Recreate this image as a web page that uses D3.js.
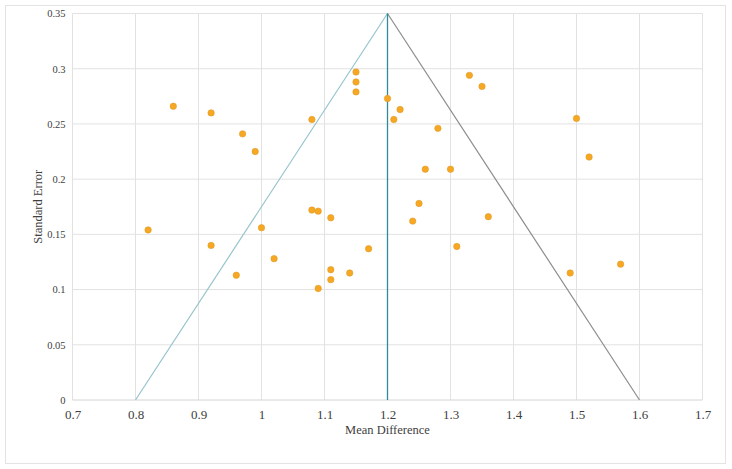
<!DOCTYPE html>
<html>
<head>
<meta charset="utf-8">
<script src="https://cdn.jsdelivr.net/npm/d3@7"></script>
<style>
  body { margin: 0; background: #fff; }
  svg text { font-family: "Liberation Serif", "Times New Roman", serif !important; fill: #404040; }
</style>
</head>
<body>
<div id="chart"></div>
<script>
// Study mean differences and their standard errors
var meanDiff = [0.82, 0.86, 0.92, 0.97, 0.99, 0.92, 0.96, 1.00, 1.08, 1.15, 1.15, 1.15,
  1.20, 1.22, 1.21, 1.28, 1.26, 1.30, 1.33, 1.35, 1.08, 1.09, 1.11, 1.25, 1.24, 1.36,
  1.02, 1.11, 1.11, 1.09, 1.14, 1.17, 1.31, 1.50, 1.52, 1.49, 1.57];
var stdErr = [0.154, 0.266, 0.260, 0.241, 0.225, 0.140, 0.113, 0.156, 0.254, 0.297, 0.288, 0.279,
  0.273, 0.263, 0.254, 0.246, 0.209, 0.209, 0.294, 0.284, 0.172, 0.171, 0.165, 0.178, 0.162, 0.166,
  0.128, 0.118, 0.109, 0.101, 0.115, 0.137, 0.139, 0.255, 0.220, 0.115, 0.123];

// Funnel: pooled estimate and limits
var pooled = 1.2;
var funnelLeft = [[0.8, 0], [1.2, 0.35]];
var funnelRight = [[1.2, 0.35], [1.6, 0]];

var xTicks = [0.7, 0.8, 0.9, 1, 1.1, 1.2, 1.3, 1.4, 1.5, 1.6, 1.7];
var yTicks = [0, 0.05, 0.1, 0.15, 0.2, 0.25, 0.3, 0.35];

var width = 732, height = 469;
var serif = "Liberation Serif";

var svg = d3.select("#chart")
  .append("svg")
  .attr("width", width)
  .attr("height", height);

// Outer chart border
svg.append("rect")
  .attr("x", 5.5).attr("y", 5.5)
  .attr("width", 720).attr("height", 458)
  .attr("fill", "#fff")
  .attr("stroke", "#e3e3e3");

var x = d3.scaleLinear().domain([0.7, 1.7]).range([72.5, 702.5]);
var y = d3.scaleLinear().domain([0, 0.35]).range([400, 13.5]);

// Gridlines
svg.append("g")
  .selectAll("line")
  .data(xTicks)
  .join("line")
  .attr("x1", d => x(d)).attr("x2", d => x(d))
  .attr("y1", y(0)).attr("y2", y(0.35))
  .attr("stroke", "#e2e2e2");

svg.append("g")
  .selectAll("line")
  .data(yTicks)
  .join("line")
  .attr("x1", x(0.7)).attr("x2", x(1.7))
  .attr("y1", d => y(d)).attr("y2", d => y(d))
  .attr("stroke", d => d === 0 ? "#d4d4d4" : "#e2e2e2");

// X axis labels
var xAxis = svg.append("g")
  .attr("transform", "translate(0," + y(0) + ")")
  .call(d3.axisBottom(x).tickValues(xTicks).tickSize(0).tickPadding(10).tickFormat(d3.format("")))
  .attr("font-family", serif)
  .attr("font-size", 13);
xAxis.select(".domain").remove();
xAxis.selectAll("text").attr("fill", "#404040");

// Y axis labels
var yAxis = svg.append("g")
  .attr("transform", "translate(" + x(0.7) + ",0)")
  .call(d3.axisLeft(y).tickValues(yTicks).tickSize(0).tickPadding(7).tickFormat(d3.format("")))
  .attr("font-family", serif)
  .attr("font-size", 10.5);
yAxis.select(".domain").remove();
yAxis.selectAll("text").attr("fill", "#404040");

// Axis titles
svg.append("text")
  .attr("x", x(1.2))
  .attr("y", 434)
  .attr("text-anchor", "middle")
  .attr("font-family", serif)
  .attr("font-size", 12.5)
  .text("Mean Difference");

svg.append("text")
  .attr("transform", "translate(42," + y(0.175) + ") rotate(-90)")
  .attr("text-anchor", "middle")
  .attr("font-family", serif)
  .attr("font-size", 12.5)
  .text("Standard Error");

// Funnel lines
var line = d3.line().x(d => x(d[0])).y(d => y(d[1]));

svg.append("path")
  .attr("d", line(funnelLeft))
  .attr("fill", "none")
  .attr("stroke", "#96c4cc")
  .attr("stroke-width", 1.2);

svg.append("path")
  .attr("d", line(funnelRight))
  .attr("fill", "none")
  .attr("stroke", "#8c8c8c")
  .attr("stroke-width", 1.2);

svg.append("line")
  .attr("x1", x(pooled)).attr("x2", x(pooled))
  .attr("y1", y(0)).attr("y2", y(0.35))
  .attr("stroke", "#2f8a9c")
  .attr("stroke-width", 1.3);

// Study points
svg.append("g")
  .selectAll("circle")
  .data(meanDiff)
  .join("circle")
  .attr("cx", d => x(d))
  .attr("cy", (d, i) => y(stdErr[i]))
  .attr("r", 3.2)
  .attr("fill", "#f7a823")
  .attr("stroke", "#e09a2a")
  .attr("stroke-width", 0.6);
</script>
</body>
</html>
